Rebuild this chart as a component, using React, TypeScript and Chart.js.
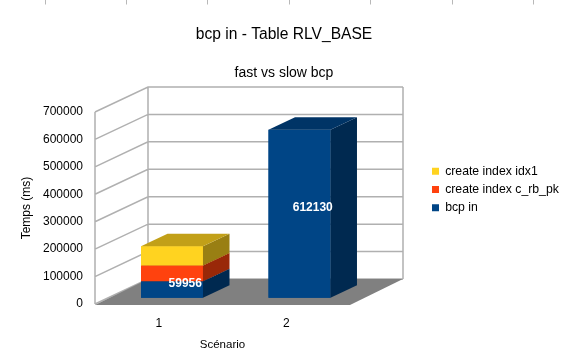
import React, { useEffect, useRef } from 'react';
import { Chart, registerables } from 'chart.js';

Chart.register(...registerables);

// ---- data ----
const scenarios = ['1', '2'];
const bcpIn = [59956, 612130];
const createIndexCRbPk = [58000, null];
const createIndexIdx1 = [70000, null];
const yMin = 0;
const yMax = 700000;
const yStep = 100000;

const seriesNames = ['bcp in', 'create index c_rb_pk', 'create index idx1'];
const seriesColors = ['#004586', '#ff420e', '#ffd320'];

// ---- style / geometry ----
const FONT = "'Liberation Sans', Arial, sans-serif";
const DEPTH_X = 53;
const DEPTH_Y = -25;
const BAR_OFFSET = 0.25;
const BAR_DEPTH = 0.5;

function shade(hex: string, f: number) {
  const n = parseInt(hex.slice(1), 16);
  const r = Math.round(((n >> 16) & 255) * f);
  const g = Math.round(((n >> 8) & 255) * f);
  const b = Math.round((n & 255) * f);
  return `rgb(${r},${g},${b})`;
}

const threeD = {
  id: 'threeD',
  beforeDatasetsDraw(chart: any) {
    const { ctx, chartArea, scales } = chart;
    const ys = scales.y;
    const L = chartArea.left;
    const R = chartArea.right;
    const yTop = ys.getPixelForValue(yMax);
    const y0 = ys.getPixelForValue(0);
    ctx.save();
    ctx.strokeStyle = '#b0b0b0';
    ctx.lineWidth = 1.5;
    ctx.beginPath();
    ys.ticks.forEach((t: any) => {
      const py = ys.getPixelForValue(t.value);
      ctx.moveTo(L, py);
      ctx.lineTo(L + DEPTH_X, py + DEPTH_Y);
      ctx.lineTo(R + DEPTH_X, py + DEPTH_Y);
    });
    ctx.moveTo(L, yTop);
    ctx.lineTo(L, y0);
    ctx.moveTo(L + DEPTH_X, yTop + DEPTH_Y);
    ctx.lineTo(L + DEPTH_X, y0 + DEPTH_Y);
    ctx.moveTo(R + DEPTH_X, yTop + DEPTH_Y);
    ctx.lineTo(R + DEPTH_X, y0 + DEPTH_Y);
    ctx.stroke();
    // floor
    ctx.fillStyle = '#808080';
    ctx.beginPath();
    ctx.moveTo(L, y0 + 1);
    ctx.lineTo(R, y0 + 1);
    ctx.lineTo(R + DEPTH_X, y0 + DEPTH_Y);
    ctx.lineTo(L + DEPTH_X, y0 + DEPTH_Y);
    ctx.closePath();
    ctx.fill();
    ctx.restore();
    // move bars to the middle of the depth
    ctx.save();
    ctx.translate(DEPTH_X * BAR_OFFSET, DEPTH_Y * BAR_OFFSET);
  },
  afterDatasetsDraw(chart: any) {
    const { ctx } = chart;
    const dx = DEPTH_X * BAR_DEPTH;
    const dy = DEPTH_Y * BAR_DEPTH;
    // paint each stacked segment bottom-up: front, side, top
    chart.data.datasets.forEach((ds: any, di: number) => {
      const meta = chart.getDatasetMeta(di);
      const base = ds.backgroundColor as string;
      meta.data.forEach((el: any) => {
        const p = el.getProps(['x', 'y', 'base', 'width'], true);
        if (!isFinite(p.y) || !isFinite(p.base)) return;
        const top = Math.min(p.y, p.base);
        const bottom = Math.max(p.y, p.base);
        if (bottom - top < 0.5) return;
        const left = p.x - p.width / 2;
        const right = p.x + p.width / 2;
        el.draw(ctx);
        ctx.save();
        ctx.fillStyle = shade(base, 0.6);
        ctx.beginPath();
        ctx.moveTo(right, top);
        ctx.lineTo(right + dx, top + dy);
        ctx.lineTo(right + dx, bottom + dy);
        ctx.lineTo(right, bottom);
        ctx.closePath();
        ctx.fill();
        ctx.fillStyle = shade(base, 0.76);
        ctx.beginPath();
        ctx.moveTo(left, top);
        ctx.lineTo(right, top);
        ctx.lineTo(right + dx, top + dy);
        ctx.lineTo(left + dx, top + dy);
        ctx.closePath();
        ctx.fill();
        ctx.restore();
      });
    });
    // value labels for "bcp in"
    const meta0 = chart.getDatasetMeta(0);
    ctx.save();
    ctx.fillStyle = '#ffffff';
    ctx.font = `bold 12px ${FONT}`;
    ctx.textAlign = 'center';
    ctx.textBaseline = 'middle';
    meta0.data.forEach((el: any, i: number) => {
      const v = chart.data.datasets[0].data[i];
      if (v == null) return;
      const p = el.getProps(['x', 'y', 'base'], true);
      ctx.fillText(String(v), p.x + dx / 2, (p.y + p.base) / 2 + dy / 2);
    });
    ctx.restore();
    ctx.restore(); // translation from beforeDatasetsDraw
  },
  afterDraw(chart: any) {
    const { ctx } = chart;
    ctx.save();
    ctx.strokeStyle = '#b8b8b8';
    ctx.lineWidth = 1;
    ctx.beginPath();
    for (let k = 0; k < 7; k++) {
      const x = Math.round(44.5 + 81.4 * k) + 0.5;
      ctx.moveTo(x, 0);
      ctx.lineTo(x, 4.5);
    }
    ctx.stroke();
    ctx.restore();
  },
};

export default function App() {
  const ref = useRef<HTMLCanvasElement>(null);
  useEffect(() => {
    Chart.defaults.font.family = FONT;
    Chart.defaults.color = '#000';
    const chart = new Chart(ref.current as HTMLCanvasElement, {
      type: 'bar',
      data: {
        labels: scenarios,
        datasets: [
          { label: seriesNames[0], data: bcpIn, backgroundColor: seriesColors[0], borderWidth: 0, clip: false },
          { label: seriesNames[1], data: createIndexCRbPk, backgroundColor: seriesColors[1], borderWidth: 0, clip: false },
          { label: seriesNames[2], data: createIndexIdx1, backgroundColor: seriesColors[2], borderWidth: 0, clip: false },
        ] as any,
      },
      options: {
        responsive: false,
        animation: false,
        events: [],
        layout: { padding: { top: 16, left: 4, right: 0, bottom: 0 } },
        datasets: { bar: { categoryPercentage: 1, barPercentage: 0.486 } } as any,
        scales: {
          x: {
            stacked: true,
            grid: { display: false, drawTicks: false },
            border: { display: false },
            ticks: { padding: 12.3, font: { size: 12 }, color: '#000' },
            title: { display: true, text: 'Scénario', font: { size: 11.5 }, color: '#000', padding: { top: 0, bottom: 10.9 } },
            afterFit: (s: any) => { s.height = 59; },
          },
          y: {
            stacked: true,
            min: yMin,
            max: yMax,
            grid: { display: false, drawTicks: false },
            border: { display: false },
            ticks: { stepSize: yStep, padding: 12, font: { size: 12 }, color: '#000', callback: (v: any) => String(v) },
            title: { display: true, text: 'Temps (ms)', font: { size: 12 }, color: '#000', padding: { top: 15.8, bottom: 0 } },
            afterFit: (s: any) => { s.width = 91; },
          },
          y2: {
            type: 'linear',
            position: 'right',
            display: true,
            grid: { display: false, drawTicks: false },
            border: { display: false },
            ticks: { display: false },
            afterFit: (s: any) => { s.width = 76; },
          },
        } as any,
        plugins: {
          title: {
            display: true,
            text: 'bcp in - Table RLV_BASE',
            font: { size: 15.6, weight: 'normal' },
            color: '#000',
            padding: { top: 9.5, bottom: 0 },
          },
          subtitle: {
            display: true,
            text: 'fast vs slow bcp',
            font: { size: 14, weight: 'normal' },
            color: '#000',
            padding: { top: 20.2, bottom: 30.8 },
          },
          legend: {
            display: true,
            position: 'right',
            reverse: true,
            maxWidth: 138,
            labels: { boxWidth: 7, boxHeight: 7, padding: 6, font: { size: 12.25 }, color: '#000' },
          },
          tooltip: { enabled: false },
        } as any,
      },
      plugins: [threeD],
    });
    return () => chart.destroy();
  }, []);
  return (
    <div style={{ position: 'absolute', left: 0, top: 0, width: 564, height: 363, background: '#fff' }}>
      <canvas ref={ref} width={564} height={363} style={{ display: 'block', width: 564, height: 363 }} />
    </div>
  );
}
